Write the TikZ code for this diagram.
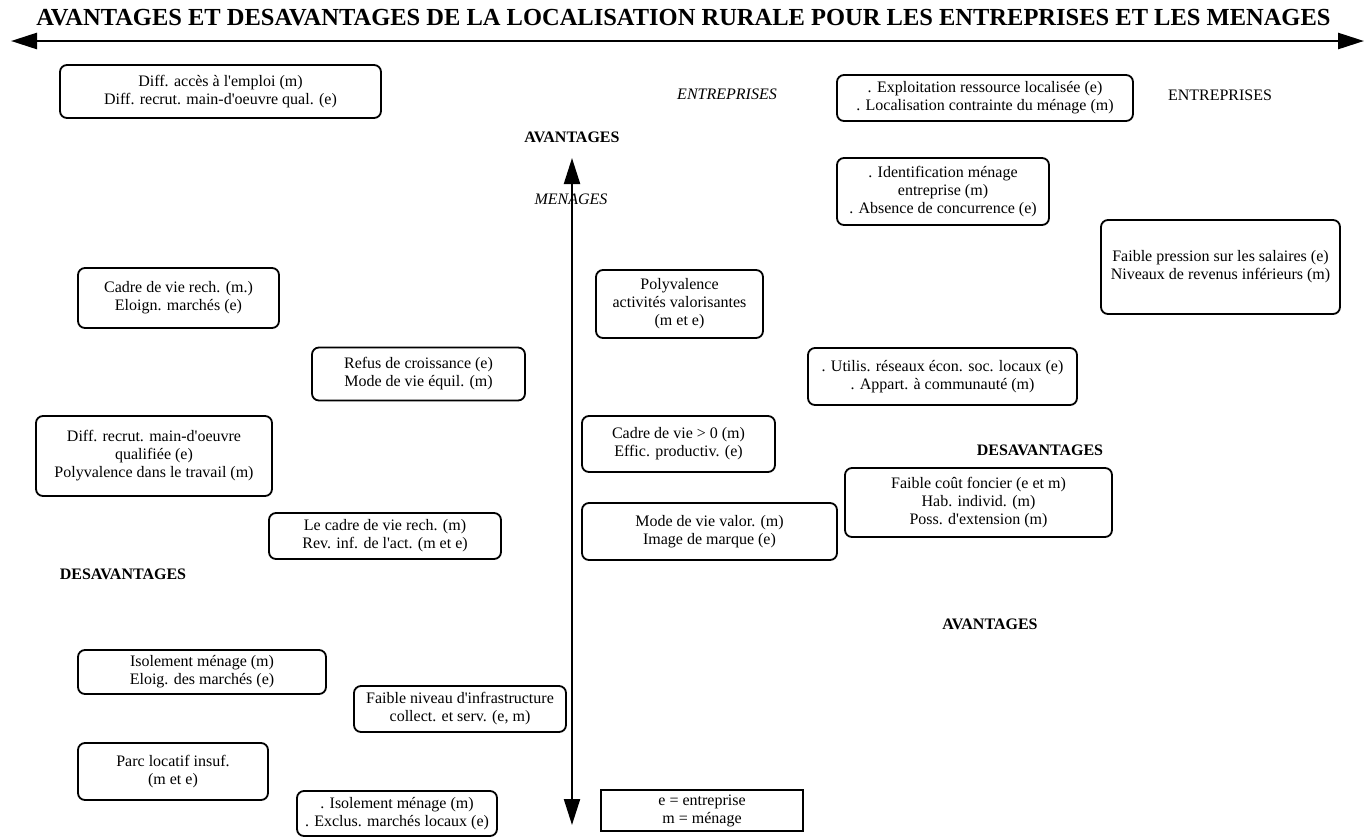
\documentclass[tikz,border=0pt]{standalone}
\usepackage{fontspec}
\setmainfont{Liberation Serif}
\newfontfamily\tfont{Liberation Serif}
\usetikzlibrary{arrows.meta}
\begin{document}
\begin{tikzpicture}[x=1pt,y=-1pt,
  bx/.style={draw, line width=1.8pt, rounded corners=7pt, align=center, inner sep=0pt, font=\tfont\fontsize{16}{18}\selectfont},
  sqbx/.style={draw, line width=1.3pt, align=center, inner sep=0pt, font=\tfont\fontsize{16}{18}\selectfont},
  sz/.style 2 args={minimum width=#1pt, minimum height=#2pt},
  lbl/.style={font=\tfont\fontsize{16}{18}\selectfont, inner sep=0pt},
  blbl/.style={font=\tfont\fontsize{16}{18}\selectfont\bfseries, inner sep=0pt},
  ilbl/.style={font=\tfont\fontsize{16}{18}\selectfont\itshape, inner sep=0pt},
  axis/.style={line width=2.6pt, {Triangle[length=26pt,width=16pt]}-{Triangle[length=26pt,width=16pt]}},
  vaxis/.style={line width=2.2pt, {Triangle[length=26pt,width=16pt]}-{Triangle[length=26pt,width=16pt]}}]
\useasboundingbox (0,0) rectangle (1366,839);

% title
\node[font=\tfont\fontsize{24.5}{28}\selectfont\bfseries, inner sep=0pt, anchor=base] (title) at (683.5,25.5)
  {AVANTAGES ET DESAVANTAGES DE LA LOCALISATION RURALE POUR LES ENTREPRISES ET LES MENAGES};

% axes
\coordinate (hl) at (11,41);
\coordinate (hr) at (1364,41);
\draw[axis] (hl) -- (hr);
\coordinate (vt) at (572,158);
\coordinate (vb) at (572,825);
\draw[vaxis] (vt) -- (vb);

% labels
\node[ilbl] (entI) at (727,94) {ENTREPRISES};
\node[lbl] (entR) at (1220,95) {ENTREPRISES};
\node[blbl] (avT) at (572,137) {AVANTAGES};
\node[ilbl] (men) at (571,199) {MENAGES};
\node[blbl] (desR) at (1040,450) {DESAVANTAGES};
\node[blbl] (desL) at (123,574) {DESAVANTAGES};
\node[blbl] (avB) at (990,624) {AVANTAGES};

% boxes
\node[bx, sz={321}{53}] (A) at (220.5,91.5) {Diff. accès à l'emploi (m)\\Diff. recrut. main-d'oeuvre qual. (e)};
\node[bx, sz={296}{46}] (B) at (985,98) {. Exploitation ressource localisée (e)\\. Localisation contrainte du ménage (m)};
\node[bx, sz={212}{67}] (C) at (943,191.5) {. Identification ménage\\entreprise (m)\\. Absence de concurrence (e)};
\node[bx, sz={239}{94}] (D) at (1220.5,267) {Faible pression sur les salaires (e)\\Niveaux de revenus inférieurs (m)};
\node[bx, sz={201}{60}] (E) at (178.5,298) {Cadre de vie rech. (m.)\\Eloign. marchés (e)};
\node[bx, sz={167}{68}] (F) at (679.5,304) {Polyvalence\\activités valorisantes\\(m et e)};
\node[bx, sz={213}{53}] (G) at (418.5,374) {Refus de croissance (e)\\Mode de vie équil. (m)};
\node[bx, sz={269}{57}] (H) at (942.5,376.5) {. Utilis. réseaux écon. soc. locaux (e)\\. Appart. à communauté (m)};
\node[bx, sz={236}{80}] (I) at (154,456) {Diff. recrut. main-d'oeuvre\\qualifiée (e)\\Polyvalence dans le travail (m)};
\node[bx, sz={193}{56}] (J) at (678.5,444) {Cadre de vie > 0 (m)\\Effic. productiv. (e)};
\node[bx, sz={267}{69}] (K) at (978.5,502.5) {Faible coût foncier (e et m)\\Hab. individ. (m)\\Poss. d'extension (m)};
\node[bx, sz={232}{46}] (L) at (385,536) {Le cadre de vie rech. (m)\\Rev. inf. de l'act. (m et e)};
\node[bx, sz={255}{57}] (M) at (709.5,531.5) {Mode de vie valor. (m)\\Image de marque (e)};
\node[bx, sz={248}{44}] (N) at (202,672) {Isolement ménage (m)\\Eloig. des marchés (e)};
\node[bx, sz={212}{46}] (O) at (460,709) {Faible niveau d'infrastructure\\collect. et serv. (e, m)};
\node[bx, sz={190}{57}] (P) at (173,771.5) {Parc locatif insuf.\\(m et e)};
\node[bx, sz={200}{45}] (Q) at (397,813.5) {. Isolement ménage (m)\\. Exclus. marchés locaux (e)};
\node[sqbx, sz={202}{41}] (R) at (702,810.5) {e = entreprise\\m = ménage};
\end{tikzpicture}
\end{document}
